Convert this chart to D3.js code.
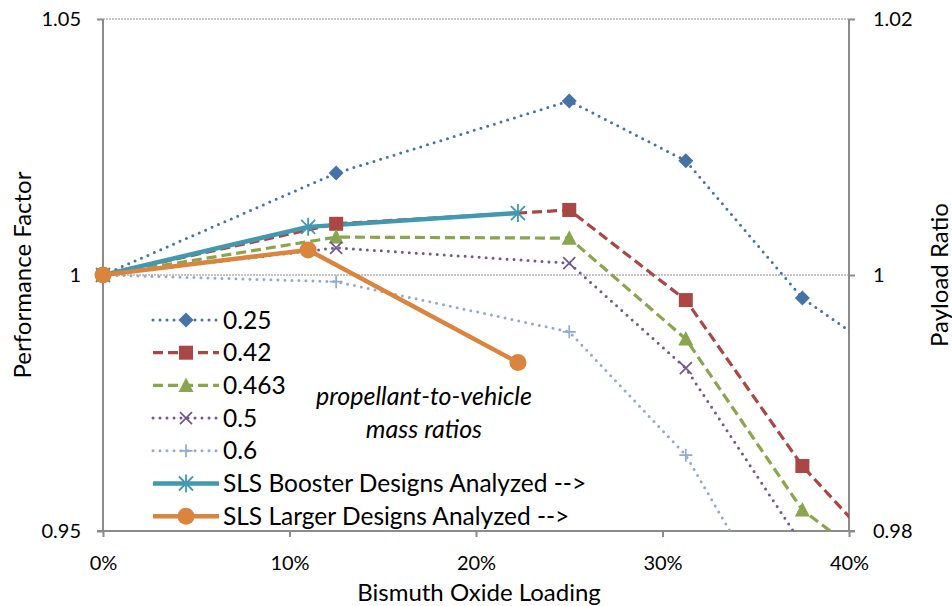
<!DOCTYPE html>
<html><head><meta charset="utf-8">
<script src="https://cdn.jsdelivr.net/npm/d3@7"></script>
<style>
body{margin:0;background:#fff;}
text{font-family:Lato,"Open Sans",sans-serif;fill:#000;}
</style></head>
<body><svg id="chart" width="952" height="606"></svg>
<script>
// ---- data ----
const xLoad = [0, 0.125, 0.25, 0.3125, 0.375, 0.4375];
const s025  = [1, 1.0199, 1.0340, 1.0223, 0.9955, 0.9795];
const s042  = [1, 1.0100, 1.0127, 0.9951, 0.9627, 0.9380];
const s0463 = [1, 1.0074, 1.0072, 0.9875, 0.9541, 0.9370];
const s05   = [1, 1.0053, 1.0023, 0.9818, 0.9473];
const s06   = [1, 0.9987, 0.9889, 0.9648, 0.9256];
const xSLS  = [0, 0.11, 0.2225];
const slsBooster = [1, 1.0094, 1.0121];
const slsLarger  = [1, 1.0049, 0.9829];
const xTicks = [0, 0.1, 0.2, 0.3, 0.4];
const yLeftTicks = [0.95, 1, 1.05];
const yRightTicks = [0.98, 1, 1.02];
const legendLabels = ["0.25","0.42","0.463","0.5","0.6","SLS Booster Designs Analyzed -->","SLS Larger Designs Analyzed -->"];

const series = [
  {name:legendLabels[0], xs:xLoad, ys:s025, color:"#4572A7", width:3, dash:"0 7", cap:"round", marker:"diamond"},
  {name:legendLabels[1], xs:xLoad, ys:s042, color:"#AA4643", width:3.2, dash:"10 5", cap:"butt", marker:"square"},
  {name:legendLabels[2], xs:xLoad, ys:s0463, color:"#89A54E", width:3.2, dash:"10 5", cap:"butt", marker:"triangle"},
  {name:legendLabels[3], xs:xLoad.slice(0,5), ys:s05, color:"#71588F", width:3, dash:"0 7", cap:"round", marker:"x"},
  {name:legendLabels[4], xs:xLoad.slice(0,5), ys:s06, color:"#93A9CF", width:3, dash:"0 7", cap:"round", marker:"plus"},
  {name:legendLabels[5], xs:xSLS, ys:slsBooster, color:"#4198AF", width:4.5, dash:null, cap:"butt", marker:"asterisk"},
  {name:legendLabels[6], xs:xSLS, ys:slsLarger, color:"#DB843D", width:4.5, dash:null, cap:"butt", marker:"circle"}
];

const svg = d3.select("#chart");
const L = 103, R = 849, T = 19, B = 531;
const x = d3.scaleLinear().domain([0, 0.4]).range([L, R]);
const y = d3.scaleLinear().domain([0.95, 1.05]).range([B, T]);
const y2 = d3.scaleLinear().domain([0.98, 1.02]).range([B, T]);

const defs = svg.append("defs");
defs.append("clipPath").attr("id","clip")
  .append("rect").attr("x",L).attr("y",T).attr("width",R-L).attr("height",B-T);
defs.append("clipPath").attr("id","clip2")
  .append("rect").attr("x",L-12).attr("y",T-12).attr("width",R-L+24).attr("height",B-T+12);

// gridlines
svg.append("g").selectAll("line").data([1, 1.05]).join("line")
  .attr("x1",L).attr("x2",R).attr("y1",d=>y(d)).attr("y2",d=>y(d))
  .attr("stroke","#8c8c8c").attr("stroke-width",1).attr("stroke-dasharray","2 1");

// axes
const axisColor = "#8c8c8c";
const fmt = d=>d===1?"1":d3.format(".2f")(d);
const gL = svg.append("g").attr("transform",`translate(${L},0)`)
  .call(d3.axisLeft(y).tickValues(yLeftTicks).tickFormat(fmt).tickSize(6).tickPadding(16));
const gR = svg.append("g").attr("transform",`translate(${R},0)`)
  .call(d3.axisRight(y2).tickValues(yRightTicks).tickFormat(fmt).tickSize(6).tickPadding(18));
const gB = svg.append("g").attr("transform",`translate(0,${B})`)
  .call(d3.axisBottom(x).tickValues(xTicks).tickFormat(d3.format(".0%")).tickSize(6).tickPadding(19));
[gL,gR,gB].forEach(g=>{
  g.select(".domain").attr("stroke",axisColor).attr("stroke-width",2);
  g.selectAll(".tick line").attr("stroke",axisColor).attr("stroke-width",2);
  g.selectAll(".tick text").style("font-size","20px").style("font-family","Lato").attr("fill","#000");
});
gL.select(".domain").attr("d",`M0,${B}V${T}`);
gR.select(".domain").attr("d",`M0,${B}V${T}`);
gB.select(".domain").attr("d",`M${L-6},0H${R+6}`);

// axis titles
svg.append("text").attr("transform",`translate(31,${(T+B)/2}) rotate(-90)`)
  .attr("text-anchor","middle").style("font-size","24px").text("Performance Factor");
svg.append("text").attr("transform",`translate(948,${(T+B)/2}) rotate(-90)`)
  .attr("text-anchor","middle").style("font-size","24px").text("Payload Ratio");
svg.append("text").attr("x",479).attr("y",601)
  .attr("text-anchor","middle").style("font-size","24px").text("Bismuth Oxide Loading");

// markers
function drawMarker(g, type, cx, cy, color){
  const s = 7;
  if(type==="diamond"){
    g.append("path").attr("d",`M${cx},${cy-7.5}L${cx+7.5},${cy}L${cx},${cy+7.5}L${cx-7.5},${cy}Z`).attr("fill",color);
  } else if(type==="square"){
    g.append("rect").attr("x",cx-s).attr("y",cy-s).attr("width",2*s).attr("height",2*s).attr("fill",color);
  } else if(type==="triangle"){
    g.append("path").attr("d",`M${cx},${cy-8}L${cx+7.5},${cy+6.5}L${cx-7.5},${cy+6.5}Z`).attr("fill",color);
  } else if(type==="x"){
    g.append("path").attr("d",`M${cx-6},${cy-6}L${cx+6},${cy+6}M${cx+6},${cy-6}L${cx-6},${cy+6}`).attr("stroke",color).attr("stroke-width",1.7);
  } else if(type==="plus"){
    g.append("path").attr("d",`M${cx-6.5},${cy}H${cx+6.5}M${cx},${cy-6.5}V${cy+6.5}`).attr("stroke",color).attr("stroke-width",1.7);
  } else if(type==="asterisk"){
    g.append("path").attr("d",`M${cx-7},${cy-7}L${cx+7},${cy+7}M${cx+7},${cy-7}L${cx-7},${cy+7}M${cx},${cy-9}V${cy+9}`).attr("stroke",color).attr("stroke-width",1.8);
  } else if(type==="circle"){
    g.append("circle").attr("cx",cx).attr("cy",cy).attr("r",8.5).attr("fill",color);
  }
}

// series
const plot = svg.append("g").attr("clip-path","url(#clip)");
const line = d3.line();
series.forEach(s=>{
  const pts = s.xs.map((xv,i)=>[x(xv), y(s.ys[i])]);
  const p = plot.append("path").attr("d",line(pts)).attr("fill","none")
    .attr("stroke",s.color).attr("stroke-width",s.width).attr("stroke-linecap",s.cap).attr("stroke-linejoin","round");
  if(s.dash) p.attr("stroke-dasharray",s.dash);
});
const markerLayer = svg.append("g").attr("clip-path","url(#clip2)");
series.forEach(s=>{
  s.xs.forEach((xv,i)=>{
    if(xv<=0.4 && s.ys[i]>=0.95) drawMarker(markerLayer, s.marker, x(xv), y(s.ys[i]), s.color);
  });
});

// legend
const lg = svg.append("g");
series.forEach((s,i)=>{
  const yy = 320 + i*32.7;
  const l = lg.append("line").attr("x1",153).attr("x2",219).attr("y1",yy).attr("y2",yy)
    .attr("stroke",s.color).attr("stroke-width",s.width).attr("stroke-linecap",s.cap);
  if(s.dash) l.attr("stroke-dasharray",s.dash);
  drawMarker(lg, s.marker, 186, yy, s.color);
  lg.append("text").attr("x",223).attr("y",yy+8.5).style("font-size","24.5px").text(s.name);
});

// annotation
svg.append("text").attr("x",424).attr("y",405).attr("text-anchor","middle")
  .style("font-size","25px").style("font-style","italic").text("propellant-to-vehicle");
svg.append("text").attr("x",424).attr("y",438).attr("text-anchor","middle")
  .style("font-size","25px").style("font-style","italic").text("mass ratios");
</script></body></html>
